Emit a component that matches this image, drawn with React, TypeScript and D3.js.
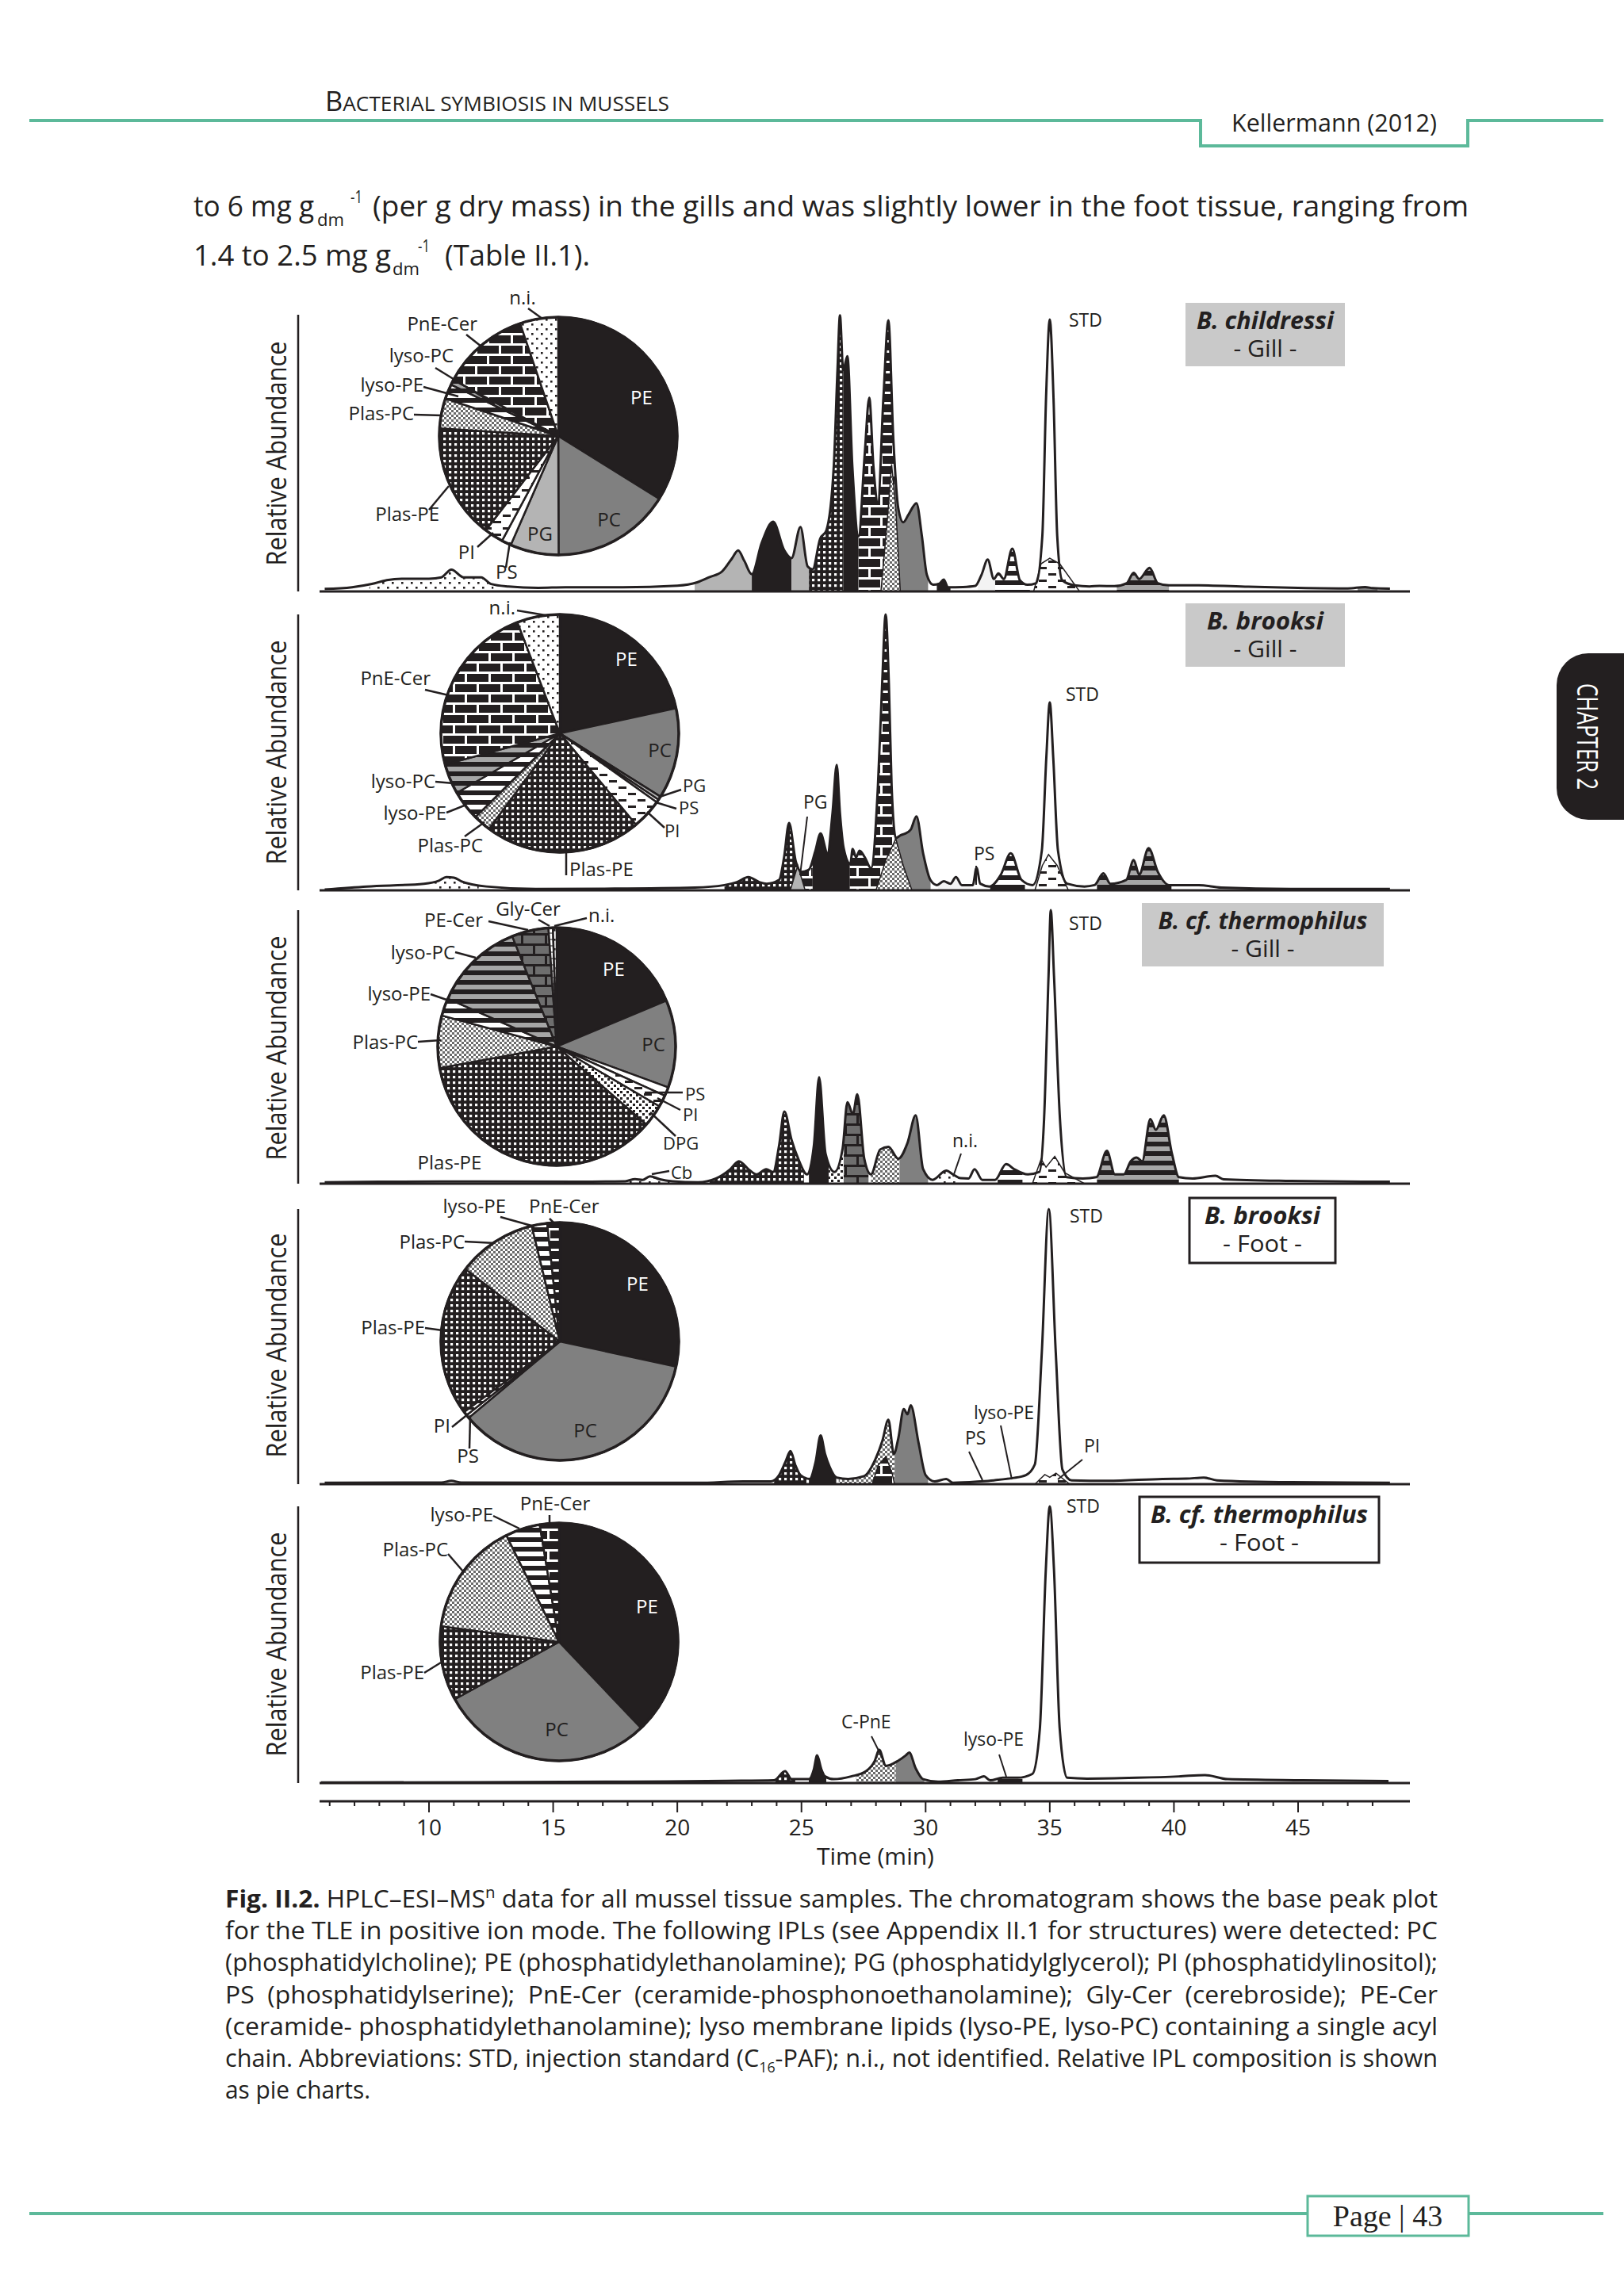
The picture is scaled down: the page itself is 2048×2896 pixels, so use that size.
import React from 'react';
import * as d3 from 'd3';

// ---------------- DATA ----------------
const TIME_TICKS = [10, 15, 20, 25, 30, 35, 40, 45];

const PIE1_CATS = ['PE', 'PC', 'PG', 'PS', 'PI', 'Plas-PE', 'Plas-PC', 'lyso-PE', 'lyso-PC', 'PnE-Cer', 'n.i.'];
const PIE1_VALS = [33.9, 16.1, 6.6, 1.3, 2.6, 15.6, 4.1, 2.0, 0.7, 12.0, 5.2];
const PIE2_CATS = ['PE', 'PC', 'PG', 'PS', 'PI', 'Plas-PE', 'Plas-PC', 'lyso-PE', 'lyso-PC', 'PnE-Cer', 'n.i.'];
const PIE2_VALS = [21.6, 12.3, 0.5, 0.4, 4.1, 21.2, 2.4, 4.1, 4.1, 23.4, 5.8];
const PIE3_CATS = ['PE', 'PC', 'PS', 'PI', 'DPG', 'Plas-PE', 'Plas-PC', 'lyso-PE', 'lyso-PC', 'PE-Cer', 'Gly-Cer', 'n.i.'];
const PIE3_VALS = [18.7, 11.9, 1.2, 1.6, 3.0, 35.7, 7.1, 2.4, 12.3, 5.0, 0.6, 0.5];
const PIE4_CATS = ['PE', 'PC', 'PS', 'PI', 'Plas-PE', 'Plas-PC', 'lyso-PE', 'PnE-Cer'];
const PIE4_VALS = [28.4, 35.5, 0.45, 0.55, 20.5, 10.8, 2.1, 1.7];
const PIE5_CATS = ['PE', 'PC', 'Plas-PE', 'Plas-PC', 'lyso-PE', 'PnE-Cer'];
const PIE5_VALS = [37.9, 29.1, 10.1, 15.6, 4.7, 2.6];

// chromatogram traces: [time (min), relative abundance %]
const TRACE1 = [[5.8,0.9],[6.9,1.5],[7.7,2.7],[8.3,4.1],[8.9,4.6],[10.0,4.6],[10.5,5.1],[10.9,7.9],[11.4,5.1],[12.1,5.1],[12.5,2.7],[13.2,1.8],[14.4,1.3],[15.5,1.5],[17.8,1.5],[20.0,2.1],[20.8,3.3],[21.3,5.2],[21.8,7.2],[22.2,11.9],[22.45,14.8],[22.7,11.0],[23.0,6.2],[23.4,17.6],[23.86,25.2],[24.3,15.0],[24.6,12.0],[24.96,23.3],[25.25,9.0],[25.45,8.0],[25.75,19.0],[26.0,22.0],[26.3,45],[26.45,80],[26.55,99.8],[26.68,80],[26.85,85],[27.05,45],[27.3,20],[27.55,50],[27.73,70],[27.9,45],[28.08,32],[28.3,70],[28.5,98],[28.7,55],[28.9,30],[29.1,25],[29.3,27.6],[29.63,31.9],[29.85,20],[30.05,6],[30.3,2.4],[30.55,2.8],[30.73,4.3],[30.9,1.5],[31.5,1.6],[32.0,2.0],[32.25,6],[32.5,11.5],[32.75,4.5],[32.93,6.5],[33.15,4.5],[33.49,15.5],[33.8,4],[34.1,2.4],[34.45,3],[34.7,20],[34.85,70],[35.0,98.3],[35.15,70],[35.3,20],[35.5,4],[36.0,2.2],[36.6,1.8],[37.0,2.0],[37.6,1.9],[38.1,3],[38.38,6.7],[38.6,4.5],[39.02,8.5],[39.35,3],[39.8,2.2],[41,2.2],[43,1.7],[45,1.3],[47,1.1],[47.7,1.6],[48.0,1.2],[48.7,1.0]];
const FILLS1 = [['n.i.',7.6,12.6],['PG',20.7,23.0],['PE',23.0,24.6],['PG',24.6,25.3],['Plas-PE',25.3,26.68],['PE',26.68,27.3],['PnE-Cer',27.3,28.75],['PC',28.75,30.1],['PE',30.45,31.0],['PS',32.1,32.8],['lyso-PE',32.8,34.2],['lyso-PC',37.7,39.8],['PC',47.4,48.2]];
const SUBS1 = [
  { cat: 'Plas-PC', pts: [[28.2,0],[28.45,25],[28.63,46],[28.8,30],[28.98,0]] },
  { cat: 'PI', pts: [[34.35,0],[34.65,10],[35.0,12],[35.4,10],[36.2,0]] },
];

const TRACE2 = [[5.8,0.3],[7.5,1.4],[9.8,2.4],[10.4,3.5],[10.7,4.8],[11.0,4.6],[11.3,3.3],[12.3,1.4],[14.3,0.5],[17,0.6],[20.7,1.0],[21.9,1.9],[22.4,3.0],[22.86,4.8],[23.3,3.0],[23.6,2.4],[24.1,3.8],[24.3,12],[24.5,24.4],[24.77,10.5],[25.0,6.7],[25.3,7.5],[25.55,14],[25.77,20.6],[26.05,13.4],[26.25,28],[26.42,45.5],[26.55,28],[26.7,15.3],[26.97,9.6],[27.06,15],[27.2,12],[27.34,14.4],[27.55,12],[27.8,8],[28.08,38],[28.25,75],[28.39,100],[28.52,75],[28.63,38],[28.8,19],[29.0,20],[29.18,20.6],[29.4,22],[29.63,26.8],[29.9,13.4],[30.19,3.8],[30.46,1.9],[30.73,3.3],[31.0,2.4],[31.22,4.8],[31.46,1.9],[31.9,1.9],[32.05,8.2],[32.2,2.4],[32.57,1.4],[33.03,5.7],[33.43,13.4],[33.86,3.8],[34.31,1.9],[34.68,14.4],[34.86,48],[35.0,68.1],[35.14,48],[35.33,14.4],[35.7,2.4],[36.4,1.4],[36.8,1.9],[37.16,6.2],[37.44,2.4],[38.08,3.8],[38.38,11],[38.6,5.7],[38.98,15.3],[39.35,6.7],[39.81,1.9],[41.0,1.9],[41.9,1.0],[44.7,0.5],[48.7,0.5]];
const FILLS2 = [['n.i.',10.2,12.0],['Plas-PE',21.9,24.85],['PnE-Cer',24.85,25.45],['PE',25.45,26.95],['PnE-Cer',26.95,28.75],['PC',28.75,30.2],['PS',30.5,31.8],['lyso-PE',32.6,34.0],['lyso-PC',36.9,39.9]];
const SUBS2 = [
  { cat: 'PG', pts: [[24.55,0],[24.85,9],[25.15,0]] },
  { cat: 'Plas-PC', pts: [[28.0,0],[28.4,11],[28.8,18.7],[29.1,9],[29.45,0]] },
  { cat: 'PI', pts: [[34.4,0],[34.7,9],[34.95,13],[35.3,9],[35.75,0]] },
];

const TRACE3 = [[5.8,0.5],[8,0.7],[12,0.8],[16,0.7],[17.9,0.9],[18.3,1.7],[18.6,1.4],[18.9,2.7],[19.3,1.6],[19.8,0.9],[20.83,0.5],[21.56,1.9],[22.1,5],[22.48,8.2],[22.9,5],[23.2,3.4],[23.58,5.3],[23.86,4.3],[24.1,14],[24.31,26.4],[24.6,16],[24.87,9.1],[25.23,3.4],[25.5,13.9],[25.71,38.9],[25.97,11],[26.33,4.3],[26.66,13],[26.85,29.8],[27.07,25.5],[27.25,32.7],[27.53,9.1],[27.8,3.4],[28.17,12.5],[28.5,13.5],[28.9,9.1],[29.27,14.9],[29.6,25],[29.9,5.3],[30.28,1.4],[30.83,4.8],[31.1,3.4],[31.4,2],[31.73,1.9],[31.97,5.3],[32.28,1.4],[32.8,1.4],[33.24,7.2],[33.57,5.3],[34.12,3.4],[34.58,4.3],[34.77,23.6],[34.95,76],[35.04,100],[35.17,76],[35.41,23.6],[35.68,2.4],[36.33,1.9],[36.88,2.4],[37.3,12],[37.62,3.4],[37.98,3.4],[38.26,8.2],[38.5,9.6],[38.72,8.2],[39.05,23.6],[39.27,19.7],[39.59,25],[39.92,11],[40.2,2.4],[40.75,1.9],[41.67,2.9],[42.0,1.6],[44.7,1.0],[48.7,0.7]];
const FILLS3 = [['Cb',17.9,19.7],['Plas-PE',21.3,25.1],['PE',25.3,26.1],['DPG',26.1,26.7],['PE-Cer',26.7,27.7],['Plas-PC',27.8,28.95],['PC',28.95,30.1],['n.i.',30.5,31.4],['lyso-PE',32.9,33.9],['lyso-PC',36.9,40.2]];
const SUBS3 = [
  { cat: 'PI', pts: [[34.3,0],[34.65,9],[34.85,6],[35.2,10],[35.6,4],[36.4,0]] },
];

const TRACE4 = [[5.8,0.5],[10.5,0.6],[10.9,1.2],[11.3,0.6],[16,0.5],[20.83,0.5],[22.66,1.0],[23.77,1.0],[24.1,3.3],[24.35,8],[24.56,12],[24.75,7],[24.96,3.3],[25.33,1.9],[25.57,8.1],[25.77,17.7],[25.95,11],[26.14,6.2],[26.42,2.4],[26.88,1.9],[27.52,2.9],[27.98,9.1],[28.26,15.8],[28.5,23.4],[28.72,11],[28.9,16.7],[29.12,27.3],[29.27,25.4],[29.4,28.7],[29.72,14.8],[30.0,3.3],[30.37,1.0],[30.83,1.9],[31.1,0.5],[32.2,1.0],[32.75,1.4],[33.49,2.2],[34.04,3.3],[34.4,7.2],[34.68,48],[34.96,100],[35.24,48],[35.51,5.3],[35.88,1.4],[37.34,1.2],[39.54,1.9],[40.5,2.0],[41.2,2.4],[41.73,1.4],[44.7,0.7],[48.7,0.5]];
const FILLS4 = [['Plas-PE',23.9,25.2],['PE',25.3,26.4],['Plas-PC',26.5,28.75],['PC',28.75,30.1]];
const SUBS4 = [
  { cat: 'PnE-Cer', pts: [[27.85,0],[28.1,7],[28.4,10],[28.65,4],[28.75,0]] },
  { cat: 'PI', pts: [[34.4,0],[34.8,3.5],[35.0,2.5],[35.25,4],[35.8,0]] },
];

const TRACE5 = [[5.65,0.2],[12,0.3],[18,0.5],[22,0.8],[23.9,1.0],[24.34,4.3],[24.6,1.4],[25.3,1.4],[25.5,5],[25.63,10],[25.8,5],[25.95,2.4],[26.3,1.4],[27.0,2.4],[27.6,4.3],[27.95,8],[28.13,12],[28.4,6.2],[28.9,8.1],[29.2,10],[29.34,11],[29.6,5.3],[29.9,1.4],[30.5,0.5],[31.3,1.0],[32.0,1.4],[32.35,2.4],[32.6,1.0],[33.1,1.9],[33.7,1.9],[34.3,3.3],[34.6,19.6],[34.84,77],[35.0,100],[35.17,77],[35.4,19.6],[35.7,1.9],[36.5,1.6],[38.5,1.9],[40.2,2.4],[41.25,2.9],[42.16,1.4],[45.2,1.0],[48.64,0.7]];
const FILLS5 = [['Plas-PE',23.95,24.75],['PE',25.3,26.0],['Plas-PC',27.2,28.8],['PC',28.8,29.95],['lyso-PE',32.9,33.9]];
const SUBS5 = [];

const SAMPLE_NAMES = ['B. childressi', 'B. brooksi', 'B. cf. thermophilus', 'B. brooksi', 'B. cf. thermophilus'];
const SAMPLE_TISSUES = ['- Gill -', '- Gill -', '- Gill -', '- Foot -', '- Foot -'];

const CAPTION = [
  'for the TLE in positive ion mode. The following IPLs (see Appendix II.1 for structures) were detected: PC',
  '(phosphatidylcholine); PE (phosphatidylethanolamine); PG (phosphatidylglycerol); PI (phosphatidylinositol);',
  'PS  (phosphatidylserine);  PnE-Cer  (ceramide-phosphonoethanolamine);  Gly-Cer  (cerebroside);  PE-Cer',
  '(ceramide- phosphatidylethanolamine); lyso membrane lipids (lyso-PE, lyso-PC) containing a single acyl',
];

// ---------------- STYLE / LAYOUT ----------------
const INK = '#231f20';
const GREEN = '#5cb99a';
const FONT = "'Open Sans', 'Noto Sans', 'DejaVu Sans', sans-serif";

const FILL = {
  'PE': INK, 'PC': '#808080', 'PG': '#b4b4b4', 'PS': '#ffffff', 'PI': 'url(#pat-pi)', 'DPG': 'url(#pat-dpg)',
  'Plas-PE': 'url(#pat-plaspe)', 'Plas-PC': 'url(#pat-plaspc)', 'lyso-PE': 'url(#pat-lysope)', 'lyso-PC': 'url(#pat-lysopc)',
  'PnE-Cer': 'url(#pat-pnecer)', 'PE-Cer': 'url(#pat-pecer)', 'Gly-Cer': 'url(#pat-glycer)', 'n.i.': 'url(#pat-ni)', 'Cb': 'url(#pat-ni)',
};

const PANELS = [
  { base: 746, top: 397, cx: 704, cy: 550, labelY: 572, trace: TRACE1, fills: FILLS1, subs: SUBS1, cats: PIE1_CATS, vals: PIE1_VALS },
  { base: 1123, top: 775, cx: 706, cy: 925, labelY: 949, trace: TRACE2, fills: FILLS2, subs: SUBS2, cats: PIE2_CATS, vals: PIE2_VALS },
  { base: 1493, top: 1148, cx: 702, cy: 1320, labelY: 1322, trace: TRACE3, fills: FILLS3, subs: SUBS3, cats: PIE3_CATS, vals: PIE3_VALS },
  { base: 1872, top: 1525, cx: 706, cy: 1692, labelY: 1697, trace: TRACE4, fills: FILLS4, subs: SUBS4, cats: PIE4_CATS, vals: PIE4_VALS },
  { base: 2249, top: 1900, cx: 705, cy: 2071, labelY: 2074, trace: TRACE5, fills: FILLS5, subs: SUBS5, cats: PIE5_CATS, vals: PIE5_VALS },
];

const BOXES = [
  { x: 1495, y: 382, w: 201, h: 80, gray: true, nl: 173, tl: 80 },
  { x: 1495, y: 761, w: 201, h: 80, gray: true, nl: 147, tl: 80 },
  { x: 1440, y: 1139, w: 305, h: 80, gray: true, nl: 264, tl: 80 },
  { x: 1500, y: 1511, w: 184, h: 82, gray: false, nl: 146, tl: 100 },
  { x: 1437, y: 1888, w: 302, h: 83, gray: false, nl: 274, tl: 100 },
];

const PIE_LABELS = [
  [
    { t: 'n.i.', x: 659, y: 384, a: 'middle', l: [666, 389, 684, 402] },
    { t: 'PnE-Cer', x: 602, y: 417, a: 'end', l: [588, 422, 607, 437] },
    { t: 'lyso-PC', x: 572, y: 457, a: 'end', l: [549, 464, 624, 510] },
    { t: 'lyso-PE', x: 534, y: 494, a: 'end', l: [534, 488, 578, 500] },
    { t: 'Plas-PC', x: 522, y: 530, a: 'end', l: [522, 523, 558, 524] },
    { t: 'Plas-PE', x: 554, y: 657, a: 'end', l: [541, 643, 566, 613] },
    { t: 'PI', x: 599, y: 705, a: 'end', l: [602, 690, 622, 672] },
    { t: 'PS', x: 625, y: 730, a: 'start', l: [638, 716, 643, 684] },
  ],
  [
    { t: 'n.i.', x: 650, y: 775, a: 'end', l: [652, 770, 688, 776] },
    { t: 'PnE-Cer', x: 543, y: 864, a: 'end', l: [536, 870, 566, 877] },
    { t: 'lyso-PC', x: 549, y: 994, a: 'end', l: [549, 986, 572, 988] },
    { t: 'lyso-PE', x: 563, y: 1034, a: 'end', l: [563, 1025, 588, 1015] },
    { t: 'Plas-PC', x: 609, y: 1075, a: 'end', l: [586, 1055, 611, 1037] },
    { t: 'Plas-PE', x: 718, y: 1105, a: 'start', l: [714, 1075, 714, 1104] },
    { t: 'PG', x: 861, y: 999, a: 'start', s: 22, l: [832, 1005, 859, 996] },
    { t: 'PS', x: 856, y: 1027, a: 'start', s: 22, l: [827, 1012, 853, 1020] },
    { t: 'PI', x: 838, y: 1056, a: 'start', s: 22, l: [816, 1024, 838, 1044] },
  ],
  [
    { t: 'PE-Cer', x: 609, y: 1169, a: 'end', l: [616, 1162, 666, 1173] },
    { t: 'Gly-Cer', x: 666, y: 1155, a: 'middle', l: [679, 1160, 693, 1168] },
    { t: 'n.i.', x: 742, y: 1163, a: 'start', l: [740, 1158, 699, 1168] },
    { t: 'lyso-PC', x: 574, y: 1210, a: 'end', l: [574, 1201, 600, 1208] },
    { t: 'lyso-PE', x: 543, y: 1262, a: 'end', l: [543, 1254, 566, 1262] },
    { t: 'Plas-PC', x: 527, y: 1323, a: 'end', l: [527, 1314, 556, 1312] },
    { t: 'Plas-PE', x: 567, y: 1475, a: 'middle' },
    { t: 'PS', x: 864, y: 1388, a: 'start', s: 22, l: [813, 1378, 861, 1378] },
    { t: 'PI', x: 861, y: 1414, a: 'start', s: 22, l: [829, 1385, 858, 1400] },
    { t: 'DPG', x: 836, y: 1450, a: 'start', s: 22, l: [820, 1403, 852, 1433] },
    { t: 'Cb', x: 846, y: 1487, a: 'start', s: 22, l: [822, 1481, 844, 1477] },
  ],
  [
    { t: 'lyso-PE', x: 638, y: 1530, a: 'end', l: [631, 1535, 674, 1547] },
    { t: 'PnE-Cer', x: 667, y: 1530, a: 'start', l: [693, 1537, 699, 1543] },
    { t: 'Plas-PC', x: 586, y: 1575, a: 'end', l: [586, 1566, 625, 1568] },
    { t: 'Plas-PE', x: 536, y: 1683, a: 'end', l: [536, 1675, 558, 1678] },
    { t: 'PI', x: 568, y: 1807, a: 'end', l: [570, 1800, 591, 1783] },
    { t: 'PS', x: 590, y: 1845, a: 'middle', l: [593, 1785, 592, 1827] },
  ],
  [
    { t: 'PnE-Cer', x: 700, y: 1905, a: 'middle', l: [693, 1911, 693, 1921] },
    { t: 'lyso-PE', x: 622, y: 1919, a: 'end', l: [622, 1912, 655, 1928] },
    { t: 'Plas-PC', x: 565, y: 1963, a: 'end', l: [565, 1960, 584, 1982] },
    { t: 'Plas-PE', x: 535, y: 2118, a: 'end', l: [535, 2110, 556, 2097] },
  ],
];

const PIE_INNER = [
  [{ t: 'PE', x: 809, y: 510, c: '#fff' }, { t: 'PC', x: 768, y: 664, c: INK }, { t: 'PG', x: 681, y: 682, c: INK }],
  [{ t: 'PE', x: 790, y: 840, c: '#fff' }, { t: 'PC', x: 832, y: 955, c: INK }],
  [{ t: 'PE', x: 774, y: 1231, c: '#fff' }, { t: 'PC', x: 824, y: 1326, c: INK }],
  [{ t: 'PE', x: 804, y: 1628, c: '#fff' }, { t: 'PC', x: 738, y: 1813, c: INK }],
  [{ t: 'PE', x: 816, y: 2035, c: '#fff' }, { t: 'PC', x: 702, y: 2190, c: INK }],
];

const CHROM_LABELS = [
  [{ t: 'STD', x: 1348, y: 412 }],
  [{ t: 'STD', x: 1344, y: 884 }, { t: 'PG', x: 1013, y: 1020, l: [1018, 1030, 1009, 1104] }, { t: 'PS', x: 1228, y: 1085, l: [1231, 1092, 1231, 1116] }],
  [{ t: 'STD', x: 1348, y: 1173 }, { t: 'n.i.', x: 1201, y: 1447, l: [1212, 1455, 1202, 1484] }],
  [{ t: 'STD', x: 1349, y: 1542 }, { t: 'lyso-PE', x: 1228, y: 1790, l: [1262, 1798, 1276, 1866] }, { t: 'PS', x: 1217, y: 1822, l: [1222, 1831, 1239, 1867] }, { t: 'PI', x: 1367, y: 1832, l: [1365, 1841, 1334, 1866] }],
  [{ t: 'STD', x: 1345, y: 1908 }, { t: 'C-PnE', x: 1061, y: 2180, l: [1099, 2190, 1113, 2218] }, { t: 'lyso-PE', x: 1215, y: 2202, l: [1260, 2213, 1269, 2241] }],
];

function Patterns() {
  return (
    <defs>
      <pattern id="pat-pi" width="24" height="16" patternUnits="userSpaceOnUse">
        <rect width="24" height="16" fill="#fff" />
        <rect x="2" y="3" width="10" height="3" fill={INK} />
        <rect x="14" y="11" width="10" height="3" fill={INK} />
      </pattern>
      <pattern id="pat-plaspe" width="7" height="7" patternUnits="userSpaceOnUse">
        <rect width="7" height="7" fill={INK} />
        <rect x="2" y="2" width="3.2" height="3.2" fill="#fff" />
      </pattern>
      <pattern id="pat-plaspc" width="6" height="6" patternUnits="userSpaceOnUse">
        <rect width="6" height="6" fill="#fff" />
        <rect width="3" height="3" fill="#6a6a6a" />
        <rect x="3" y="3" width="3" height="3" fill="#6a6a6a" />
      </pattern>
      <pattern id="pat-lysope" width="12" height="12" patternUnits="userSpaceOnUse">
        <rect width="12" height="12" fill="#fff" />
        <rect width="12" height="6" fill={INK} />
      </pattern>
      <pattern id="pat-lysopc" width="12" height="12" patternUnits="userSpaceOnUse">
        <rect width="12" height="12" fill="#a6a6a6" />
        <rect width="12" height="6" fill={INK} />
      </pattern>
      <pattern id="pat-pnecer" width="30" height="26" patternUnits="userSpaceOnUse">
        <rect width="30" height="26" fill={INK} />
        <rect y="0" width="30" height="3" fill="#fff" />
        <rect y="13" width="30" height="3" fill="#fff" />
        <rect x="0" y="0" width="3" height="13" fill="#fff" />
        <rect x="15" y="13" width="3" height="13" fill="#fff" />
      </pattern>
      <pattern id="pat-pecer" width="30" height="26" patternUnits="userSpaceOnUse">
        <rect width="30" height="26" fill="#6e6e6e" />
        <rect y="0" width="30" height="3" fill={INK} />
        <rect y="13" width="30" height="3" fill={INK} />
        <rect x="0" y="0" width="3" height="13" fill={INK} />
        <rect x="15" y="13" width="3" height="13" fill={INK} />
      </pattern>
      <pattern id="pat-ni" width="12" height="12" patternUnits="userSpaceOnUse">
        <rect width="12" height="12" fill="#fff" />
        <rect x="2" y="2" width="2.6" height="2.6" fill={INK} />
        <rect x="8" y="8" width="2.6" height="2.6" fill={INK} />
      </pattern>
      <pattern id="pat-dpg" width="8" height="8" patternUnits="userSpaceOnUse">
        <rect width="8" height="8" fill="#fff" />
        <rect width="3" height="3" fill={INK} />
        <rect x="4" y="4" width="3" height="3" fill={INK} />
      </pattern>
      <pattern id="pat-glycer" width="8" height="8" patternUnits="userSpaceOnUse">
        <rect width="8" height="8" fill="#fff" />
        <rect x="0" y="0" width="8" height="2" fill="#888" />
      </pattern>
    </defs>
  );
}

export default function App() {
  const x = d3.scaleLinear().domain([10, 45]).range([541, 1637]);
  const minorTicks = d3.range(6, 49);
  const pie = d3.pie<number>().sort(null).value((d) => d);
  const arc = d3.arc<any>().innerRadius(0).outerRadius(150);

  return (
    <svg width={2048} height={2896} viewBox="0 0 2048 2896"
      style={{ position: 'absolute', left: 0, top: 0, display: 'block' }} fontFamily={FONT}>
      <Patterns />
      <rect width={2048} height={2896} fill="#fff" />

      {/* header */}
      <path d="M37,152 H1514 V184 H1851 V152 H2022" fill="none" stroke={GREEN} strokeWidth={4} />
      <text x={410} y={140} fill={INK} textLength={434} lengthAdjust="spacingAndGlyphs">
        <tspan fontSize={34}>B</tspan><tspan fontSize={26}>ACTERIAL SYMBIOSIS IN MUSSELS</tspan>
      </text>
      <text x={1553} y={166} fontSize={31} fill={INK} textLength={259} lengthAdjust="spacingAndGlyphs">Kellermann (2012)</text>

      {/* body text */}
      <g fill={INK}>
        <text x={244} y={273} fontSize={37} textLength={152} lengthAdjust="spacingAndGlyphs">to 6 mg g</text>
        <text x={400} y={285} fontSize={22} textLength={34} lengthAdjust="spacingAndGlyphs">dm</text>
        <text x={442} y={256} fontSize={21} textLength={15} lengthAdjust="spacingAndGlyphs">-1</text>
        <text x={470} y={273} fontSize={37} textLength={1382} lengthAdjust="spacingAndGlyphs">(per g dry mass) in the gills and was slightly lower in the foot tissue, ranging from</text>
        <text x={244} y={335} fontSize={37} textLength={249} lengthAdjust="spacingAndGlyphs">1.4 to 2.5 mg g</text>
        <text x={495} y={347} fontSize={22} textLength={34} lengthAdjust="spacingAndGlyphs">dm</text>
        <text x={527} y={318} fontSize={21} textLength={15} lengthAdjust="spacingAndGlyphs">-1</text>
        <text x={561} y={335} fontSize={37} textLength={183} lengthAdjust="spacingAndGlyphs">(Table II.1).</text>
      </g>

      {/* chapter tab */}
      <path d="M2048,824 H2003 A40,40 0 0 0 1963,864 V994 A40,40 0 0 0 2003,1034 H2048 Z" fill={INK} />
      <text transform="translate(1989,929) rotate(90)" textAnchor="middle" fontSize={36} fill="#fff" textLength={134} lengthAdjust="spacingAndGlyphs">CHAPTER 2</text>

      {/* panels */}
      {PANELS.map((p, i) => {
        const y = d3.scaleLinear().domain([0, 100]).range([p.base, p.top]);
        const area = d3.area<number[]>().x((d) => x(d[0])).y0(p.base).y1((d) => y(d[1])).curve(d3.curveMonotoneX);
        const line = d3.line<number[]>().x((d) => x(d[0])).y((d) => y(d[1])).curve(d3.curveMonotoneX);
        const subArea = d3.area<number[]>().x((d) => x(d[0])).y0(p.base).y1((d) => y(d[1])).curve(d3.curveLinear);
        const areaD = area(p.trace as any) || '';
        const arcs = pie(p.vals);
        const box = BOXES[i];
        return (
          <g key={i}>
            <defs>
              {p.fills.map((f: any, j: number) => (
                <clipPath id={`clip-${i}-${j}`} key={j}>
                  <rect x={x(f[1])} y={p.top - 20} width={x(f[2]) - x(f[1])} height={p.base - p.top + 20} />
                </clipPath>
              ))}
            </defs>
            {/* y axis line */}
            <line x1={376} x2={376} y1={p.top} y2={p.base} stroke={INK} strokeWidth={2.5} />
            <text transform={`translate(361,${p.labelY}) rotate(-90)`} textAnchor="middle" fontSize={35} fill={INK}
              textLength={283} lengthAdjust="spacingAndGlyphs">Relative Abundance</text>

            {/* fills */}
            {p.fills.map((f: any, j: number) => (
              <path key={j} d={areaD} fill={f[0] === 'PS' ? '#f3f3f3' : FILL[f[0]]} clipPath={`url(#clip-${i}-${j})`} />
            ))}
            {p.subs.map((s: any, j: number) => (
              <path key={'s' + j} d={subArea(s.pts) || ''} fill={FILL[s.cat]} stroke={INK} strokeWidth={1.5} />
            ))}
            <path d={line(p.trace as any) || ''} fill="none" stroke={INK} strokeWidth={3} strokeLinejoin="round" />
            <line x1={403} x2={1778} y1={p.base} y2={p.base} stroke={INK} strokeWidth={3} />

            {/* chromatogram labels */}
            {CHROM_LABELS[i].map((c: any, j: number) => (
              <g key={'c' + j}>
                {c.l && <line x1={c.l[0]} y1={c.l[1]} x2={c.l[2]} y2={c.l[3]} stroke={INK} strokeWidth={2} />}
                <text x={c.x} y={c.y} fontSize={23} fill={INK}>{c.t}</text>
              </g>
            ))}

            {/* sample box */}
            <rect x={box.x} y={box.y} width={box.w} height={box.h} fill={box.gray ? '#c9c9c9' : '#fff'}
              stroke={box.gray ? 'none' : INK} strokeWidth={3} />
            <text x={box.x + box.w / 2} y={box.y + 33} textAnchor="middle" fontSize={30} fontWeight="bold" fontStyle="italic"
              fill={INK} textLength={box.nl} lengthAdjust="spacingAndGlyphs">{SAMPLE_NAMES[i]}</text>
            <text x={box.x + box.w / 2} y={box.y + 68} textAnchor="middle" fontSize={29} fill={INK}
              textLength={box.tl} lengthAdjust="spacingAndGlyphs">{SAMPLE_TISSUES[i]}</text>

            {/* pie */}
            <g transform={`translate(${p.cx},${p.cy})`}>
              {arcs.map((a: any, j: number) => (
                <path key={j} d={arc(a) || ''} fill={FILL[p.cats[j]]} stroke={INK} strokeWidth={2.5} strokeLinejoin="round" />
              ))}
              <circle r={150} fill="none" stroke={INK} strokeWidth={3.5} />
            </g>
            {PIE_INNER[i].map((t: any, j: number) => (
              <text key={'in' + j} x={t.x} y={t.y} textAnchor="middle" fontSize={24} fill={t.c}>{t.t}</text>
            ))}
            {PIE_LABELS[i].map((t: any, j: number) => (
              <g key={'pl' + j}>
                {t.l && <line x1={t.l[0]} y1={t.l[1]} x2={t.l[2]} y2={t.l[3]} stroke={INK} strokeWidth={2.5} />}
                <text x={t.x} y={t.y} textAnchor={t.a} fontSize={t.s || 24} fill={INK}>{t.t}</text>
              </g>
            ))}
          </g>
        );
      })}

      {/* bottom time axis */}
      <line x1={403} x2={1778} y1={2272} y2={2272} stroke={INK} strokeWidth={3} />
      {minorTicks.map((t) => (
        <line key={t} x1={x(t)} x2={x(t)} y1={2272} y2={t % 5 === 0 ? 2286 : 2278} stroke={INK} strokeWidth={2} />
      ))}
      {TIME_TICKS.map((t) => (
        <text key={t} x={x(t)} y={2315} textAnchor="middle" fontSize={28} fill={INK}>{t}</text>
      ))}
      <text x={1104} y={2352} textAnchor="middle" fontSize={30} fill={INK}>Time (min)</text>

      {/* caption */}
      <g fill={INK} fontSize={31}>
        <text x={284} y={2406} textLength={1529} lengthAdjust="spacingAndGlyphs">
          <tspan fontWeight="bold">Fig. II.2.</tspan> HPLC–ESI–MS<tspan fontSize={20} dy={-12}>n</tspan><tspan dy={12}> data for all mussel tissue samples. The chromatogram shows the base peak plot</tspan>
        </text>
        {CAPTION.map((c, k) => (
          <text key={k} x={284} y={2446 + k * 40.3} textLength={1529} lengthAdjust="spacingAndGlyphs" xmlSpace="preserve">{c}</text>
        ))}
        <text x={284} y={2607} textLength={1529} lengthAdjust="spacingAndGlyphs">
          chain. Abbreviations: STD, injection standard (C<tspan fontSize={18} dy={7}>16</tspan><tspan dy={-7}>-PAF); n.i., not identified. Relative IPL composition is shown</tspan>
        </text>
        <text x={284} y={2647} textLength={183} lengthAdjust="spacingAndGlyphs">as pie charts.</text>
      </g>

      {/* footer */}
      <line x1={37} x2={2022} y1={2792} y2={2792} stroke={GREEN} strokeWidth={4} />
      <rect x={1649} y={2770} width={203} height={50} fill="#fff" stroke={GREEN} strokeWidth={3} />
      <text x={1750} y={2808} textAnchor="middle" fontSize={38} fill={INK} fontFamily="'Liberation Serif', 'DejaVu Serif', serif">Page | 43</text>
    </svg>
  );
}
